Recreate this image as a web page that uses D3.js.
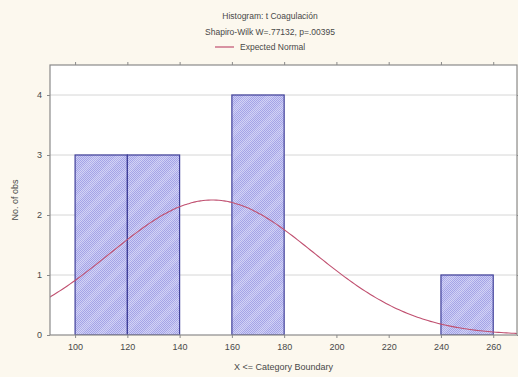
<!DOCTYPE html>
<html>
<head>
<meta charset="utf-8">
<script src="https://cdn.jsdelivr.net/npm/d3@7"></script>
<style>
  html, body { margin: 0; padding: 0; background: #fcf8ee; }
  svg { display: block; }
  text { font-family: Arial, "Liberation Sans", sans-serif; fill: #484848; }
</style>
</head>
<body>
<svg id="chart" width="518" height="377"></svg>
<script>
// Histogram bins: lower boundary and observed count (bin width 20)
const binStarts = [80, 100, 120, 140, 160, 180, 200, 220, 240, 260];
const binCounts = [0, 3, 3, 0, 4, 0, 0, 0, 1, 0];
const binWidth = 20;
const xTicks = [100, 120, 140, 160, 180, 200, 220, 240, 260];
const yTicks = [0, 1, 2, 3, 4];
// Sample parameters for the expected normal curve
const sampleN = 11;
const sampleMean = 152.5;
const sampleSD = 39;

const titleLines = ["Histogram: t Coagulación", "Shapiro-Wilk W=.77132, p=.00395"];
const legendLabel = "Expected Normal";
const xLabel = "X <= Category Boundary";
const yLabel = "No. of obs";

const svg = d3.select("#chart");
const plotLeft = 50, plotRight = 517, plotTop = 65, plotBottom = 335;

const x = d3.scaleLinear().domain([90.4, 269.1]).range([plotLeft, plotRight]);
const y = d3.scaleLinear().domain([0, 4.5]).range([plotBottom, plotTop]);

// Dotted fill with a faint diagonal sheen for the bars
const defs = svg.append("defs");
const pat = defs.append("pattern")
  .attr("id", "hatch").attr("patternUnits", "userSpaceOnUse")
  .attr("width", 2).attr("height", 2);
pat.append("rect").attr("width", 2).attr("height", 2).attr("fill", "#cdcdf5");
pat.append("rect").attr("width", 1).attr("height", 1).attr("fill", "#a4a4e6");
pat.append("rect").attr("x", 1).attr("y", 1).attr("width", 1).attr("height", 1).attr("fill", "#a4a4e6");
const stripes = defs.append("pattern")
  .attr("id", "stripes").attr("patternUnits", "userSpaceOnUse")
  .attr("width", 16).attr("height", 16)
  .attr("patternTransform", "rotate(45)");
stripes.append("rect").attr("width", 6).attr("height", 16).attr("fill", "#ffffff").attr("opacity", 0.12);

defs.append("clipPath").attr("id", "plotClip")
  .append("rect").attr("x", plotLeft).attr("y", plotTop)
  .attr("width", plotRight - plotLeft).attr("height", plotBottom - plotTop);

// Plot area
svg.append("rect").attr("x", plotLeft).attr("y", plotTop)
  .attr("width", plotRight - plotLeft).attr("height", plotBottom - plotTop)
  .attr("fill", "#ffffff");

// Horizontal grid
svg.append("g").selectAll("line").data(yTicks.filter(d => d > 0)).join("line")
  .attr("x1", plotLeft).attr("x2", plotRight)
  .attr("y1", d => y(d)).attr("y2", d => y(d))
  .attr("stroke", "#d6d6d6").attr("stroke-width", 1);

// Bars
const bins = binStarts.map((s, i) => ({ start: s, count: binCounts[i] })).filter(d => d.count > 0);
const barG = svg.append("g").attr("clip-path", "url(#plotClip)");
const barAttrs = sel => sel
  .attr("x", d => x(d.start)).attr("width", d => x(d.start + binWidth) - x(d.start))
  .attr("y", d => y(d.count)).attr("height", d => y(0) - y(d.count));
barG.selectAll("rect.bar").data(bins).join("rect").attr("class", "bar")
  .call(barAttrs).attr("fill", "url(#hatch)");
barG.selectAll("rect.stripe").data(bins).join("rect").attr("class", "stripe")
  .call(barAttrs).attr("fill", "url(#stripes)");
barG.selectAll("rect.edge").data(bins).join("rect").attr("class", "edge")
  .call(barAttrs).attr("fill", "none").attr("stroke", "#40409a").attr("stroke-width", 1.2);

// Expected normal curve: n * binWidth * pdf(x)
const normalY = v => sampleN * binWidth * Math.exp(-0.5 * ((v - sampleMean) / sampleSD) ** 2) / (sampleSD * Math.sqrt(2 * Math.PI));
const curvePts = d3.range(90, 270.01, 1).map(v => [v, normalY(v)]);
svg.append("path")
  .datum(curvePts)
  .attr("clip-path", "url(#plotClip)")
  .attr("d", d3.line().x(d => x(d[0])).y(d => y(d[1])).curve(d3.curveBasis))
  .attr("fill", "none").attr("stroke", "#c05070").attr("stroke-width", 1.1);

// Frame
svg.append("rect").attr("x", plotLeft).attr("y", plotTop)
  .attr("width", plotRight - plotLeft).attr("height", plotBottom - plotTop)
  .attr("fill", "none").attr("stroke", "#8a8a8a").attr("stroke-width", 1.2);

// Axes
const xAxis = svg.append("g").attr("transform", `translate(0,${plotBottom})`)
  .call(d3.axisBottom(x).tickValues(xTicks).tickSize(3).tickPadding(6));
const xTop = svg.append("g").attr("transform", `translate(0,${plotTop})`)
  .call(d3.axisTop(x).tickValues(xTicks).tickSize(3).tickFormat(""));
const yAxis = svg.append("g").attr("transform", `translate(${plotLeft},0)`)
  .call(d3.axisLeft(y).tickValues(yTicks).tickFormat(d3.format("d")).tickSize(3).tickPadding(5));
const yRight = svg.append("g").attr("transform", `translate(${plotRight},0)`)
  .call(d3.axisRight(y).tickValues(yTicks).tickSize(3).tickFormat(""));
[xAxis, xTop, yAxis, yRight].forEach(g => {
  g.select(".domain").remove();
  g.selectAll(".tick line").attr("stroke", "#8a8a8a");
  g.selectAll(".tick text").attr("font-size", 9).attr("fill", "#484848")
    .attr("font-family", "Arial, 'Liberation Sans', sans-serif");
});

// Titles and legend
svg.append("text").attr("x", 270).attr("y", 19).attr("text-anchor", "middle").attr("font-size", 8.5).text(titleLines[0]);
svg.append("text").attr("x", 270).attr("y", 35).attr("text-anchor", "middle").attr("font-size", 8.5).text(titleLines[1]);
svg.append("line").attr("x1", 215).attr("x2", 234).attr("y1", 47).attr("y2", 47)
  .attr("stroke", "#c05070").attr("stroke-width", 1.2);
svg.append("text").attr("x", 240).attr("y", 50).attr("font-size", 8.5).text(legendLabel);

// Axis titles
svg.append("text").attr("x", (plotLeft + plotRight) / 2).attr("y", 370).attr("text-anchor", "middle")
  .attr("font-size", 9).text(xLabel);
svg.append("text").attr("transform", `translate(18,${(plotTop + plotBottom) / 2}) rotate(-90)`)
  .attr("text-anchor", "middle").attr("font-size", 9).text(yLabel);
</script>
</body>
</html>
